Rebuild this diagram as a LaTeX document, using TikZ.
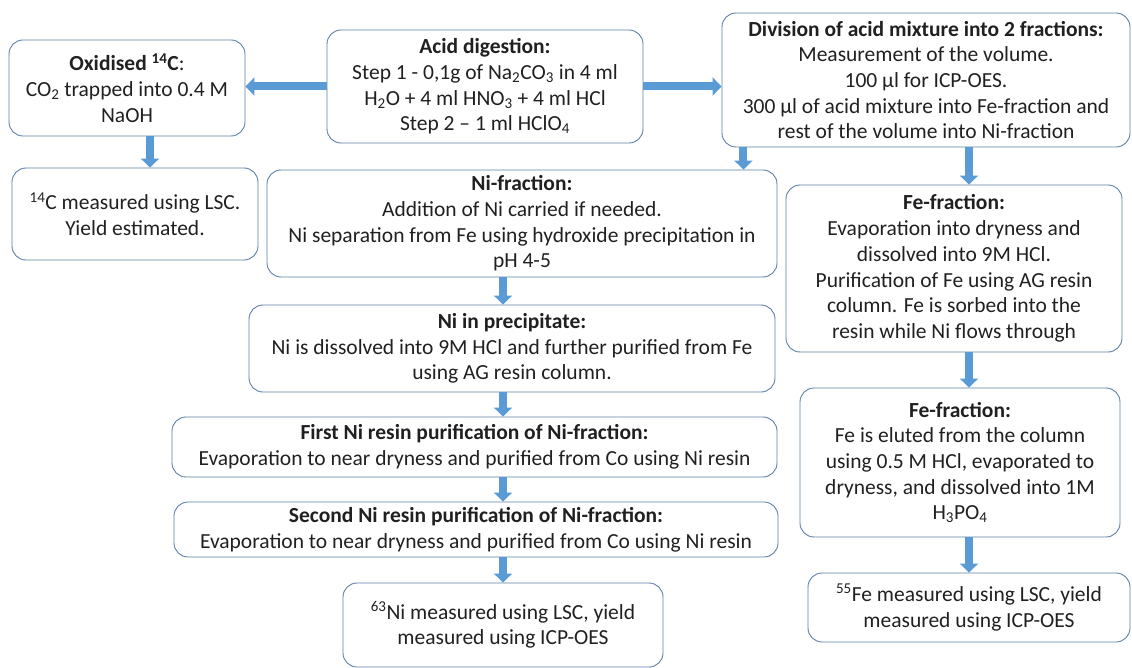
\documentclass[tikz,border=0pt]{standalone}
\usepackage{fontspec}
\setmainfont{Carlito}
\usetikzlibrary{arrows.meta}

\definecolor{boxline}{HTML}{5B7FA6}
\definecolor{flowblue}{HTML}{5B9BD5}
\definecolor{textgray}{HTML}{202020}

\newcommand\boxfont{\fontsize{21.5}{25.7}\selectfont}
\newcommand\iso[2]{\textsuperscript{#1}#2}

\tikzset{
  stepbox/.style={draw=boxline, line width=0.9pt, rounded corners=14pt,
    align=center, inner sep=2pt, text=textgray, font=\boxfont},
  flow/.style={draw=flowblue, line width=8pt,
    -{Triangle[width=18pt,length=9pt]}},
}

\begin{document}
\begin{tikzpicture}[x=1pt, y=-1pt]
    \useasboundingbox (0,0) rectangle (1132,668);
    % top row
    \node (oxid) [stepbox, minimum width=236, minimum height=96] at (127,88)
      {\textbf{Oxidised \iso{14}{C}}:\\ CO\textsubscript{2} trapped into 0.4 M\\ NaOH};
    \node (acid) [stepbox, minimum width=316, minimum height=113] at (485,86.5)
      {\textbf{Acid digestion:}\\ Step 1 - 0,1g of Na\textsubscript{2}CO\textsubscript{3} in 4 ml\\
       H\textsubscript{2}O + 4 ml HNO\textsubscript{3} + 4 ml HCl\\ Step 2 -- 1 ml HClO\textsubscript{4}};
    \node (div) [stepbox, minimum width=408, minimum height=134] at (926,80)
      {\textbf{Division of acid mixture into 2 fractions:}\\ Measurement of the volume.\\
       100 µl for ICP-OES.\\ 300 µl of acid mixture into Fe-fraction and\\
       rest of the volume into Ni-fraction};
    \node (c14) [stepbox, minimum width=246, minimum height=92] at (135,214)
      {\iso{14}{C} measured using LSC.\\ Yield estimated.};
    % Ni branch
    \node (nif) [stepbox, minimum width=510, minimum height=107] at (522,223.5)
      {\textbf{Ni-fraction:}\\ Addition of Ni carried if needed.\\
       Ni separation from Fe using hydroxide precipitation in\\ pH 4-5};
    \node (prec) [stepbox, minimum width=526, minimum height=87] at (512,348.5)
      {\textbf{Ni in precipitate:}\\ Ni is dissolved into 9M HCl and further purified from Fe\\
       using AG resin column.};
    \node (first) [stepbox, minimum width=605, minimum height=60] at (474.5,447)
      {\textbf{First Ni resin purification of Ni-fraction:}\\
       Evaporation to near dryness and purified from Co using Ni resin};
    \node (second) [stepbox, minimum width=604, minimum height=55] at (476,529.5)
      {\textbf{Second Ni resin purification of Ni-fraction:}\\
       Evaporation to near dryness and purified from Co using Ni resin};
    \node (ni63) [stepbox, minimum width=320, minimum height=84] at (503,625)
      {\iso{63}{Ni} measured using LSC, yield\\ measured using ICP-OES};
    % Fe branch
    \node (fe1) [stepbox, minimum width=336, minimum height=167] at (954,268.5)
      {\textbf{Fe-fraction:}\\ Evaporation into dryness and\\ dissolved into 9M HCl.\\
       Purification of Fe using AG resin\\ column. Fe is sorbed into the\\
       resin while Ni flows through};
    \node (fe2) [stepbox, minimum width=320, minimum height=149] at (960,462.5)
      {\textbf{Fe-fraction:}\\ Fe is eluted from the column\\ using 0.5 M HCl, evaporated to\\
       dryness, and dissolved into 1M\\ H\textsubscript{3}PO\textsubscript{4}};
    \node (fe55) [stepbox, minimum width=322, minimum height=69] at (969,607.5)
      {\iso{55}{Fe} measured using LSC, yield\\ measured using ICP-OES};

    % arrows
    \draw[flow] (acid.west) -- (acid.west -| oxid.east);
    \draw[flow] (acid.east) -- (acid.east -| div.west);
    \draw[flow] ([xshift=23pt]oxid.south) -- ([xshift=23pt]oxid.south |- c14.north);
    \draw[flow] ([xshift=-34pt]nif.north east |- div.south) -- ([xshift=-34pt]nif.north east);
    \draw[flow] (div.south -| fe55) -- (fe1.north -| fe55);
    \draw[flow] (fe1.south -| fe55) -- (fe2.north -| fe55);
    \draw[flow] (fe2.south -| fe55) -- (fe55.north);
    \draw[flow] (nif.south -| ni63) -- (prec.north -| ni63);
    \draw[flow] (prec.south -| ni63) -- (first.north -| ni63);
    \draw[flow] (first.south -| ni63) -- (second.north -| ni63);
    \draw[flow] (second.south -| ni63) -- (ni63.north);
\end{tikzpicture}
\end{document}
